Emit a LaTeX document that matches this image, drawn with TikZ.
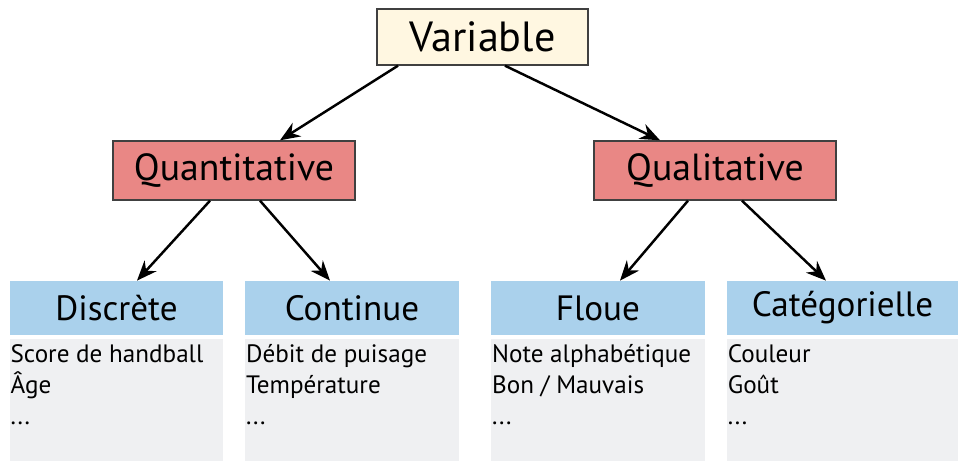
\documentclass[tikz,border=0pt]{standalone}
\usepackage{fontspec}
\setmainfont{PT Sans}
\usetikzlibrary{arrows.meta}
\definecolor{rootfill}{HTML}{FFF7E1}
\definecolor{kindfill}{HTML}{E98785}
\definecolor{headfill}{HTML}{AAD1EC}
\definecolor{bodyfill}{HTML}{EFF0F2}
\tikzset{
root/.style={draw=black!75,line width=0.8pt,fill=rootfill,minimum width=4.22cm,minimum height=1.12cm,inner sep=0pt,font=\fontsize{24}{28}\selectfont},
kind/.style={draw=black!75,line width=0.8pt,fill=kindfill,minimum width=4.84cm,minimum height=1.18cm,inner sep=0pt,font=\fontsize{21.5}{25}\selectfont},
head/.style={fill=headfill,minimum width=4.27cm,minimum height=1.08cm,inner sep=0pt,font=\fontsize{20}{24}\selectfont},
body/.style={fill=bodyfill,minimum width=4.27cm,minimum height=2.44cm,inner sep=0pt},
items/.style={anchor=north west,align=left,inner xsep=0.5pt,inner ysep=3pt,font=\fontsize{14.3}{17.8}\selectfont},
link/.style={-{Stealth[length=4mm,width=3.2mm,inset=1.3mm]},line width=1.4pt}
}
\begin{document}
\begin{tikzpicture}
\useasboundingbox (0,0) rectangle (19.16,9.22);
\node[root] (var) at (9.65,8.48) {Variable};
\node[kind] (quan) at (4.68,5.81) {Quantitative};
\node[kind] (qual) at (14.30,5.81) {Qualitative};
% types
\node[head] (disc) at (2.33,3.06) {Discrète};
\node[head] (cont) at (7.04,3.06) {Continue};
\node[head] (flou) at (11.96,3.06) {Floue};
\node[head,minimum width=4.62cm] (cat) at (16.85,3.06) {Catégorielle};
\node[body] (discb) at (2.33,1.22) {};
\node[body] (contb) at (7.04,1.22) {};
\node[body] (floub) at (11.96,1.22) {};
\node[body,minimum width=4.62cm] (catb) at (16.85,1.22) {};
\node[items] (disct) at (discb.north west) {Score de handball\\Âge\\...};
\node[items] (contt) at (contb.north west) {Débit de puisage\\Température\\...};
\node[items] (flout) at (floub.north west) {Note alphabétique\\Bon / Mauvais\\...};
\node[items] (catt) at (catb.north west) {Couleur\\Goût\\...};
% arrows
\draw[link] ([xshift=-1.69cm]var.south) -- ([xshift=0.92cm]quan.north);
\draw[link] ([xshift=0.45cm]var.south) -- ([xshift=-1.1cm]qual.north);
\draw[link] ([xshift=-0.48cm]quan.south) -- ([xshift=0.41cm]disc.north);
\draw[link] ([xshift=0.52cm]quan.south) -- ([xshift=-0.44cm]cont.north);
\draw[link] ([xshift=-0.54cm]qual.south) -- ([xshift=0.44cm]flou.north);
\draw[link] ([xshift=0.54cm]qual.south) -- ([xshift=-0.33cm]cat.north);
\end{tikzpicture}
\end{document}
